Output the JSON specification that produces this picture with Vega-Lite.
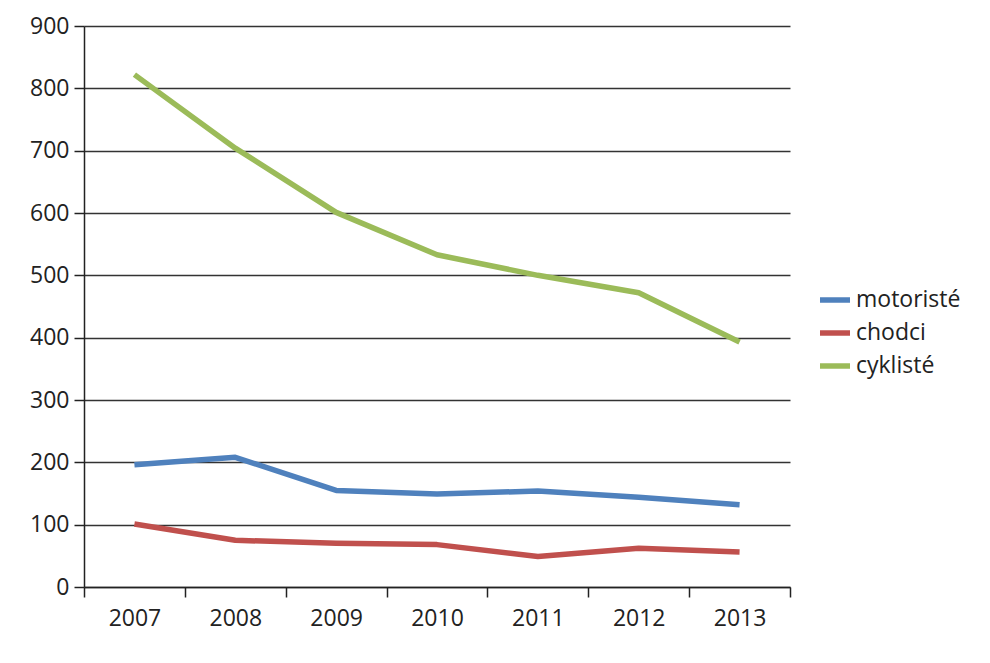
{
  "$schema": "https://vega.github.io/schema/vega-lite/v6.json",
  "autosize": "none",
  "padding": {"left": 84, "top": 26, "right": 200, "bottom": 76},
  "width": 706,
  "height": 561,
  "background": "white",
  "config": {
    "view": {"stroke": null},
    "font": "Open Sans",
    "axis": {"labelFont": "Open Sans", "labelColor": "#222", "labelFontSize": 23}
  },
  "data": {
    "values": [
      {"rok": "2007", "skupina": "motoristé", "pocet": 196},
      {"rok": "2008", "skupina": "motoristé", "pocet": 208},
      {"rok": "2009", "skupina": "motoristé", "pocet": 155},
      {"rok": "2010", "skupina": "motoristé", "pocet": 149},
      {"rok": "2011", "skupina": "motoristé", "pocet": 154},
      {"rok": "2012", "skupina": "motoristé", "pocet": 144},
      {"rok": "2013", "skupina": "motoristé", "pocet": 132},
      {"rok": "2007", "skupina": "chodci", "pocet": 101},
      {"rok": "2008", "skupina": "chodci", "pocet": 75},
      {"rok": "2009", "skupina": "chodci", "pocet": 70},
      {"rok": "2010", "skupina": "chodci", "pocet": 68},
      {"rok": "2011", "skupina": "chodci", "pocet": 49},
      {"rok": "2012", "skupina": "chodci", "pocet": 62},
      {"rok": "2013", "skupina": "chodci", "pocet": 56},
      {"rok": "2007", "skupina": "cyklisté", "pocet": 822},
      {"rok": "2008", "skupina": "cyklisté", "pocet": 704},
      {"rok": "2009", "skupina": "cyklisté", "pocet": 601},
      {"rok": "2010", "skupina": "cyklisté", "pocet": 533},
      {"rok": "2011", "skupina": "cyklisté", "pocet": 500},
      {"rok": "2012", "skupina": "cyklisté", "pocet": 472},
      {"rok": "2013", "skupina": "cyklisté", "pocet": 393}
    ]
  },
  "mark": {"type": "line", "strokeWidth": 5.5, "strokeCap": "butt", "strokeJoin": "round"},
  "encoding": {
    "x": {
      "field": "rok",
      "type": "ordinal",
      "bandPosition": 0.5,
      "scale": {"type": "band", "paddingInner": 0, "paddingOuter": 0},
      "axis": {
        "title": null,
        "labelAngle": 0,
        "tickBand": "extent",
        "domainColor": "#222",
        "domainWidth": 1.5,
        "tickColor": "#222",
        "tickWidth": 1.5,
        "tickSize": 10,
        "labelPadding": 10,
        "grid": false
      }
    },
    "y": {
      "field": "pocet",
      "type": "quantitative",
      "scale": {"domain": [0, 900], "nice": false},
      "axis": {
        "title": null,
        "values": [0, 100, 200, 300, 400, 500, 600, 700, 800, 900],
        "grid": true,
        "gridColor": "#333",
        "gridWidth": 1.6,
        "domainColor": "#222",
        "domainWidth": 1.5,
        "tickColor": "#222",
        "tickWidth": 1.5,
        "tickSize": 10,
        "labelPadding": 5
      }
    },
    "color": {
      "field": "skupina",
      "type": "nominal",
      "scale": {"domain": ["motoristé", "chodci", "cyklisté"], "range": ["#4F81BD", "#C0504D", "#9BBB59"]},
      "legend": {
        "title": null,
        "orient": "none",
        "legendX": 733,
        "legendY": 256,
        "symbolType": "stroke",
        "symbolStrokeWidth": 5.5,
        "symbolSize": 900,
        "labelFont": "Open Sans",
        "labelFontSize": 23,
        "labelColor": "#222",
        "rowPadding": 3,
        "labelOffset": 3
      }
    }
  }
}
